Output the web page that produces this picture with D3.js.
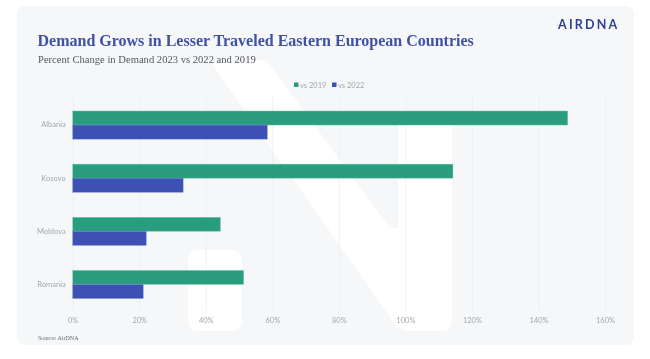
<!DOCTYPE html>
<html>
<head>
<meta charset="utf-8">
<script src="https://cdn.jsdelivr.net/npm/d3@7"></script>
<style>
  html, body { margin: 0; padding: 0; background: #fff; }
  svg { display: block; filter: blur(0.4px); }
  text { font-family: "Lato", sans-serif; }
</style>
</head>
<body>
<div id="chart"></div>
<script>
const countries = ["Albania", "Kosovo", "Moldova", "Romania"];
const seriesNames = ["vs 2019", "vs 2022"];
const vs2019 = [148.8, 114.3, 44.4, 51.4];
const vs2022 = [58.5, 33.2, 22.1, 21.2];
const xTicks = [0, 20, 40, 60, 80, 100, 120, 140, 160];
const seriesColors = ["#2a9d7f", "#3d50b4"];
const seriesEdges = ["#7fd0bd", "#7f8cd6"];

const W = 650, H = 359;
const svg = d3.select("#chart").append("svg")
  .attr("width", W)
  .attr("height", H);

// panel
svg.append("rect")
  .attr("x", 17).attr("y", 6)
  .attr("width", 617).attr("height", 339)
  .attr("rx", 8)
  .attr("fill", "#f6f7f9");

// faint N watermark behind the plot
const mark = svg.append("g").attr("fill", "#fff");
mark.append("path").attr("d", "M212 64 L266 60 L390 228 L398 228 L400 330 L397 327 Z");
mark.append("rect").attr("x", 188).attr("y", 250).attr("width", 54).attr("height", 81).attr("rx", 9);
mark.append("rect").attr("x", 398).attr("y", 112).attr("width", 54).attr("height", 219).attr("rx", 9);

const x = d3.scaleLinear().domain([0, 160]).range([72.7, 605]);
const y = d3.scaleBand().domain(countries).range([98.5, 311]).paddingInner(0.47).paddingOuter(0.235);
const ySub = d3.scaleBand().domain(seriesNames).range([0, y.bandwidth()]);

// ── axes ─────────────────────────────────────────────────────────
const xAxis = svg.append("g")
  .attr("transform", "translate(0,311)")
  .call(d3.axisBottom(x).tickValues(xTicks).tickFormat(d => `${d}%`).tickSize(-214).tickPadding(7));
xAxis.select(".domain").remove();
xAxis.selectAll("line").attr("stroke", "#eceef1").attr("stroke-width", 0.8);
xAxis.selectAll("text").attr("fill", "#a4a7ad").style("font-size", "7.5px");

const yAxis = svg.append("g")
  .attr("transform", "translate(72.7,0)")
  .call(d3.axisLeft(y).tickSize(0).tickPadding(7));
yAxis.select(".domain").remove();
yAxis.selectAll("text").attr("fill", "#a4a7ad").style("font-size", "7.5px");

// ── bars ─────────────────────────────────────────────────────────
[vs2019, vs2022].forEach((values, i) => {
  svg.append("g").selectAll("rect")
    .data(values)
    .join("rect")
    .attr("x", x(0))
    .attr("y", (d, j) => y(countries[j]) + ySub(seriesNames[i]))
    .attr("width", d => x(d) - x(0))
    .attr("height", ySub.bandwidth())
    .attr("fill", seriesColors[i])
    .attr("stroke", seriesEdges[i])
    .attr("stroke-width", 0.4);
});

// ── legend ───────────────────────────────────────────────────────
const legendX = [294, 332];
seriesNames.forEach((name, i) => {
  svg.append("rect")
    .attr("x", legendX[i]).attr("y", 82.5)
    .attr("width", 4.5).attr("height", 4.5)
    .attr("fill", seriesColors[i]);
  svg.append("text")
    .attr("x", legendX[i] + 6).attr("y", 87.5)
    .attr("fill", "#a4a7ad")
    .style("font-size", "7.5px")
    .text(name);
});

// ── titles ───────────────────────────────────────────────────────
svg.append("text")
  .attr("x", 37.5).attr("y", 46)
  .attr("fill", "#3f51a5")
  .style("font-family", "'Liberation Serif', serif")
  .style("font-weight", "700")
  .style("font-size", "16px")
  .text("Demand Grows in Lesser Traveled Eastern European Countries");

svg.append("text")
  .attr("x", 38).attr("y", 63)
  .attr("fill", "#555861")
  .style("font-family", "'Liberation Serif', serif")
  .style("font-size", "10.6px")
  .text("Percent Change in Demand 2023 vs 2022 and 2019");

svg.append("text")
  .attr("x", 38).attr("y", 339.5)
  .attr("fill", "#666a72")
  .style("font-family", "'Liberation Serif', serif")
  .style("font-size", "6px")
  .text("Source: AirDNA");

svg.append("text")
  .attr("x", 558).attr("y", 29)
  .attr("fill", "#2f4290")
  .style("font-weight", "700")
  .style("font-size", "12.5px")
  .style("letter-spacing", "2.2px")
  .text("AIRDNA");
</script>
</body>
</html>
